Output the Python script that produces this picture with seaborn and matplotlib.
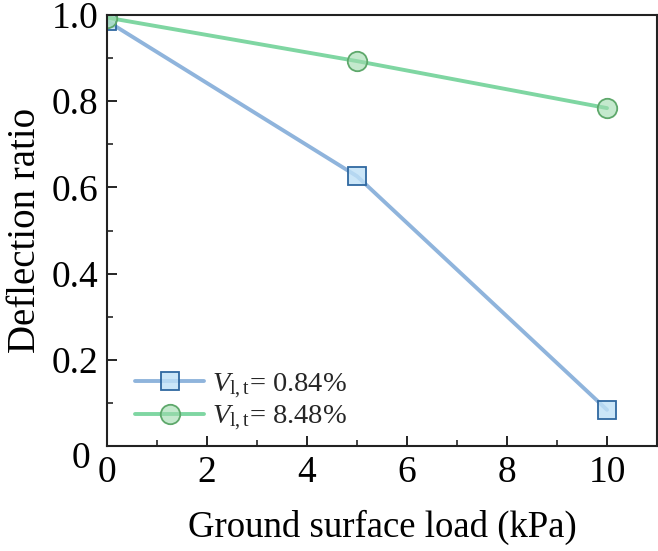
import matplotlib
matplotlib.use("Agg")
import matplotlib.pyplot as plt
import matplotlib.transforms as mtransforms
import seaborn as sns
from matplotlib.ticker import MultipleLocator

sns.set_theme(style="ticks")
plt.rcParams['font.family'] = ['Liberation Serif', 'DejaVu Serif']
plt.rcParams['mathtext.fontset'] = 'custom'
plt.rcParams['mathtext.rm'] = 'Liberation Serif'
plt.rcParams['mathtext.it'] = 'Liberation Serif:italic'

load = [0, 5, 10]
ratio_084 = [0.986, 0.626, 0.084]
ratio_848 = [0.994, 0.893, 0.784]
labels = [r"$V_{\mathrm{l,t}}$= 0.84%", r"$V_{\mathrm{l,t}}$= 8.48%"]
xticks = [0, 2, 4, 6, 8, 10]
yticks = [0, 0.2, 0.4, 0.6, 0.8, 1.0]
yticklabels = ["0", "0.2", "0.4", "0.6", "0.8", "1.0"]

fig = plt.figure(figsize=(6.58, 5.51), dpi=100)
ax = fig.add_axes([0.1626, 0.1905, 0.8359, 0.7823])

sns.lineplot(x=load, y=ratio_084, ax=ax, color="#8fb4dc", lw=2.8,
             marker="s", markersize=13, markerfacecolor=(0.75, 0.88, 0.97, 0.8),
             markeredgecolor="#2f68a0", markeredgewidth=1.3, label=labels[0])
sns.lineplot(x=load, y=ratio_848, ax=ax, color="#7fd6a2", lw=2.8,
             marker="o", markersize=14, markerfacecolor=(0.62, 0.86, 0.68, 0.6),
             markeredgecolor="#5ea86b", markeredgewidth=1.3, label=labels[1])

ax.set_xlim(0, 11)
ax.set_ylim(0, 1.0)
ax.set_xticks(xticks)
ax.set_yticks(yticks)
ax.set_yticklabels(yticklabels)
ax.xaxis.set_minor_locator(MultipleLocator(1))
ax.yaxis.set_minor_locator(MultipleLocator(0.1))
ax.tick_params(axis='both', which='major', direction='in', length=7, width=1.2,
               labelsize=27, top=False, right=False, colors='black')
ax.tick_params(axis='both', which='minor', direction='in', length=4, width=1.2,
               top=False, right=False)
ax.tick_params(axis='x', pad=7)
ax.tick_params(axis='y', pad=6)
# the y "0" label sits lower-left in the reference
lab0 = ax.get_yticklabels()[0]
lab0.set_transform(lab0.get_transform() +
                   mtransforms.ScaledTranslation(-8/100, -9/100, fig.dpi_scale_trans))
for s in ax.spines.values():
    s.set_color('#222222')
    s.set_linewidth(1.5)
ax.set_xlabel("Ground surface load (kPa)", fontsize=26.5, labelpad=14, color='black')
ax.set_ylabel("Deflection ratio", fontsize=28, labelpad=6, color='black')
leg = ax.legend(loc='lower left', bbox_to_anchor=(0.031, 0.004), frameon=False,
                fontsize=20.5, handlelength=2.4, borderaxespad=0, labelspacing=0.1,
                handletextpad=0.3)
fig.savefig("out.png", dpi=100)
